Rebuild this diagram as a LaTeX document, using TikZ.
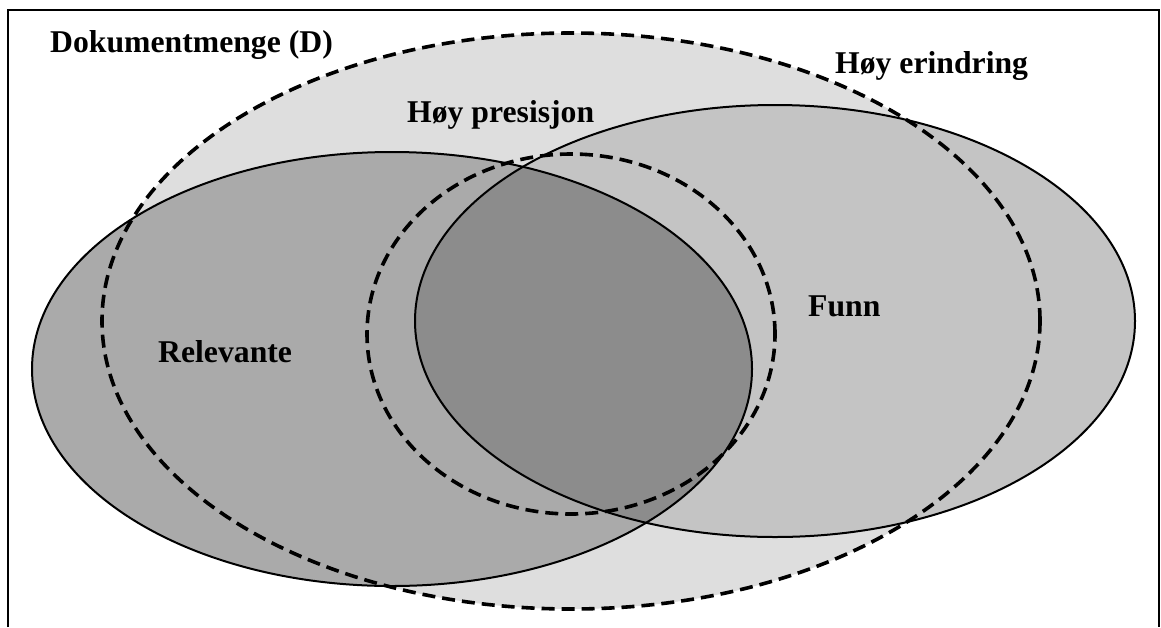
\documentclass[tikz,border=0pt]{standalone}
\usepackage{fontspec}
\setmainfont{Liberation Serif}
\definecolor{bigfill}{RGB}{222,222,222}
\definecolor{funnfill}{RGB}{196,196,196}
\definecolor{relfill}{RGB}{170,170,170}
\definecolor{bothfill}{RGB}{140,140,140}
\begin{document}
\begin{tikzpicture}[x=1pt,y=-1pt,
  lbl/.style={font=\bfseries\fontsize{31.7}{34}\selectfont, inner sep=0pt, anchor=base west},
  dashline/.style={line width=3.6pt, dash pattern=on 13pt off 7pt},
  solidline/.style={line width=2pt},
  frameline/.style={line width=2.4pt}]
\useasboundingbox (0,0) rectangle (1161,627);
\fill[white] (0,0) rectangle (1161,627);
\draw[frameline] (8,627) -- (8,10) -- (1159,10) -- (1159,627);
% fills
\fill[bigfill] (571,321) ellipse [x radius=469pt, y radius=288pt];
\fill[relfill] (392,369) ellipse [x radius=360pt, y radius=217pt];
\fill[funnfill] (775,321) ellipse [x radius=360pt, y radius=216pt];
\begin{scope}
  \clip (392,369) ellipse [x radius=360pt, y radius=217pt];
  \fill[bothfill] (775,321) ellipse [x radius=360pt, y radius=216pt];
\end{scope}
% outlines
\draw[solidline] (392,369) ellipse [x radius=360pt, y radius=217pt];
\draw[solidline] (775,321) ellipse [x radius=360pt, y radius=216pt];
\draw[dashline] (571,321) ellipse [x radius=469pt, y radius=288pt];
\draw[dashline] (571,334) ellipse [x radius=204pt, y radius=180pt];
% labels
\node[lbl] (dok) at (50,52) {Dokumentmenge (D)};
\node[lbl] (erind) at (835,73) {Høy erindring};
\node[lbl] (pres) at (407,122) {Høy presisjon};
\node[lbl] (rel) at (158,362) {Relevante};
\node[lbl] (funn) at (808,316) {Funn};
\end{tikzpicture}
\end{document}
